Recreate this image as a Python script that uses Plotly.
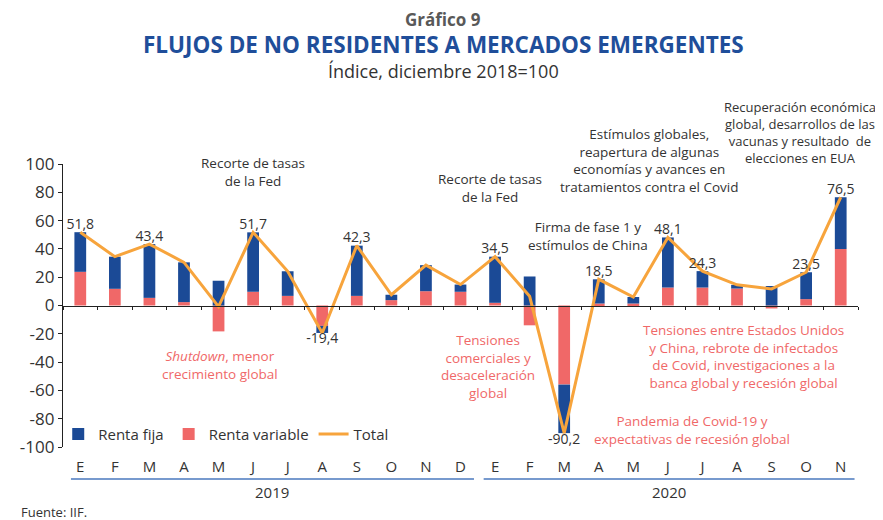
import plotly.graph_objects as go

months = ["E", "F", "M", "A", "M", "J", "J", "A", "S", "O", "N", "D",
          "E", "F", "M", "A", "M", "J", "J", "A", "S", "O", "N"]
years = ["2019"] * 12 + ["2020"] * 11
renta_fija = [28.0, 22.7, 38.0, 28.1, 17.5, 42.0, 17.4, -5.0, 35.5, 3.8, 18.4, 5.1,
              32.6, 20.5, -34.3, 17.1, 4.6, 35.4, 11.6, 2.6, 13.8, 19.0, 36.6]
renta_variable = [23.8, 11.8, 5.4, 2.4, -18.3, 9.7, 6.8, -14.4, 6.8, 3.8, 10.1, 9.7,
                  1.9, -14.0, -55.9, 1.4, 1.4, 12.7, 12.7, 12.0, -2.1, 4.5, 39.9]
total = [51.8, 34.5, 43.4, 30.5, -0.8, 51.7, 24.2, -19.4, 42.3, 7.6, 28.5, 14.8,
         34.5, 6.5, -90.2, 18.5, 6.0, 48.1, 24.3, 14.6, 11.7, 23.5, 76.5]
labeled = [True, False, True, False, False, True, False, True, True, False, False, False,
           True, False, True, True, False, True, True, False, False, True, True]
y_ticks = [-100, -80, -60, -40, -20, 0, 20, 40, 60, 80, 100]

cats = list(range(len(months)))
FONT = "Open Sans"
DARK = "#333333"
BLUE = "#1B4A96"
SALMON = "#F06868"
ORANGE = "#F7A43C"

texts = [(f"{v:.1f}".replace(".", ",") if lab else "") for v, lab in zip(total, labeled)]
tpos = ["bottom center" if v < 0 else "top center" for v in total]

fig = go.Figure()
fig.add_trace(go.Bar(x=cats, y=renta_variable, name="Renta variable", marker_color=SALMON,
                     marker_line_width=0, legendrank=2))
fig.add_trace(go.Bar(x=cats, y=renta_fija, name="Renta fija", marker_color=BLUE,
                     marker_line_width=0, legendrank=1))
fig.add_trace(go.Scatter(x=cats, y=total, name="Total", mode="lines+text",
                         line=dict(color=ORANGE, width=3),
                         text=texts, textposition=tpos,
                         textfont=dict(family=FONT, size=14, color=DARK),
                         cliponaxis=False, legendrank=3))
# helper trace for month labels axis
fig.add_trace(go.Scatter(x=cats, y=[0] * len(cats), xaxis="x2", mode="markers",
                         marker=dict(opacity=0), showlegend=False, hoverinfo="skip"))

fig.update_layout(
    width=875, height=512,
    margin=dict(l=46, r=25, t=156, b=73),
    paper_bgcolor="white", plot_bgcolor="white",
    barmode="relative", bargap=0.66,
    font=dict(family=FONT, color=DARK),
    showlegend=True,
    legend=dict(orientation="h", x=-0.006, y=0.045, xanchor="left", yanchor="middle",
                font=dict(family=FONT, size=15, color=DARK), bgcolor="rgba(0,0,0,0)",
                itemwidth=30, tracegroupgap=0),
    xaxis=dict(type="linear", range=[-0.5, len(cats) - 0.5], anchor="free", position=0.5,
               showline=True, linecolor="#222222", linewidth=1.2,
               tickvals=[i - 0.5 for i in range(len(cats) + 1)], ticks="outside",
               ticklen=3, tickcolor="#222222", showticklabels=False, showgrid=False,
               zeroline=False),
    xaxis2=dict(type="linear", range=[-0.5, len(cats) - 0.5], overlaying="x", anchor="y",
                side="bottom", tickvals=cats, ticktext=months, showline=False, ticks="",
                showgrid=False, zeroline=False, ticklabelstandoff=9,
                tickfont=dict(family=FONT, size=15, color=DARK)),
    yaxis=dict(range=[-100, 100], tickvals=y_ticks, ticktext=[str(v) for v in y_ticks],
               showline=True, linecolor="#222222", linewidth=1.2, ticks="outside",
               ticklen=4, tickcolor="#222222", showgrid=False, zeroline=False,
               tickfont=dict(family=FONT, size=17, color=DARK)),
)

# Year separators and labels
year_spans = [("2019", -0.27, 11.39), ("2020", 11.67, 22.4)]
for name, x0, x1 in year_spans:
    fig.add_shape(type="line", xref="x", yref="paper", x0=x0, x1=x1, y0=-0.113, y1=-0.113,
                  line=dict(color="#4A78BE", width=1.5))
    fig.add_annotation(xref="x", yref="paper", x=(x0 + x1) / 2, y=-0.159, text=name,
                       showarrow=False, yanchor="middle",
                       font=dict(family=FONT, size=15, color=DARK))

# Titles
fig.add_annotation(xref="paper", yref="paper", x=0.478, xanchor="center", y=1.512, yanchor="middle",
                   text="<b>Gráfico 9</b>", showarrow=False,
                   font=dict(family=FONT, size=17, color="#595959"))
fig.add_annotation(xref="paper", yref="paper", x=0.478, xanchor="center", y=1.423, yanchor="middle",
                   text="<b>FLUJOS DE NO RESIDENTES A MERCADOS EMERGENTES</b>", showarrow=False,
                   font=dict(family=FONT, size=22.5, color="#1F4E9A"))
fig.add_annotation(xref="paper", yref="paper", x=0.478, xanchor="center", y=1.33, yanchor="middle",
                   text="Índice, diciembre 2018=100", showarrow=False,
                   font=dict(family=FONT, size=18, color=DARK))
fig.add_annotation(xref="paper", yref="paper", x=-0.055, xanchor="left", y=-0.228, yanchor="middle",
                   text="Fuente: IIF.", showarrow=False,
                   font=dict(family=FONT, size=13, color=DARK))

# Event annotations (x in category index, y in plot-paper fraction)
notes = [
    (5.0, 0.972, "Recorte de tasas<br>de la Fed", DARK, 13.5),
    (11.85, 0.916, "Recorte de tasas<br>de la Fed", DARK, 13.5),
    (14.7, 0.745, "Firma de fase 1 y<br>estímulos de China", DARK, 13.5),
    (16.47, 1.011, "Estímulos globales,<br>reapertura de algunas<br>economías y avances en<br>tratamientos contra el Covid", DARK, 13.5),
    (20.82, 1.113, "Recuperación económica<br>global, desarrollos de las<br>vacunas y resultado  de<br>elecciones en EUA", DARK, 13),
    (4.05, 0.29, "<i>Shutdown</i>, menor<br>crecimiento global", SALMON, 13.5),
    (11.8, 0.285, "Tensiones<br>comerciales y<br>desaceleración<br>global", SALMON, 13.5),
    (19.2, 0.32, "Tensiones entre Estados Unidos<br>y China, rebrote de infectados<br>de Covid, investigaciones a la<br>banca global y recesión global", SALMON, 13.5),
    (17.7, 0.06, "Pandemia de Covid-19 y<br>expectativas de recesión global", SALMON, 13.5),
]
for x, y, t, c, s in notes:
    fig.add_annotation(x=x, y=y, xref="x", yref="paper", text=t, showarrow=False,
                       align="center", xanchor="center", yanchor="middle",
                       font=dict(family=FONT, size=s, color=c))

fig.write_html("out.html")
